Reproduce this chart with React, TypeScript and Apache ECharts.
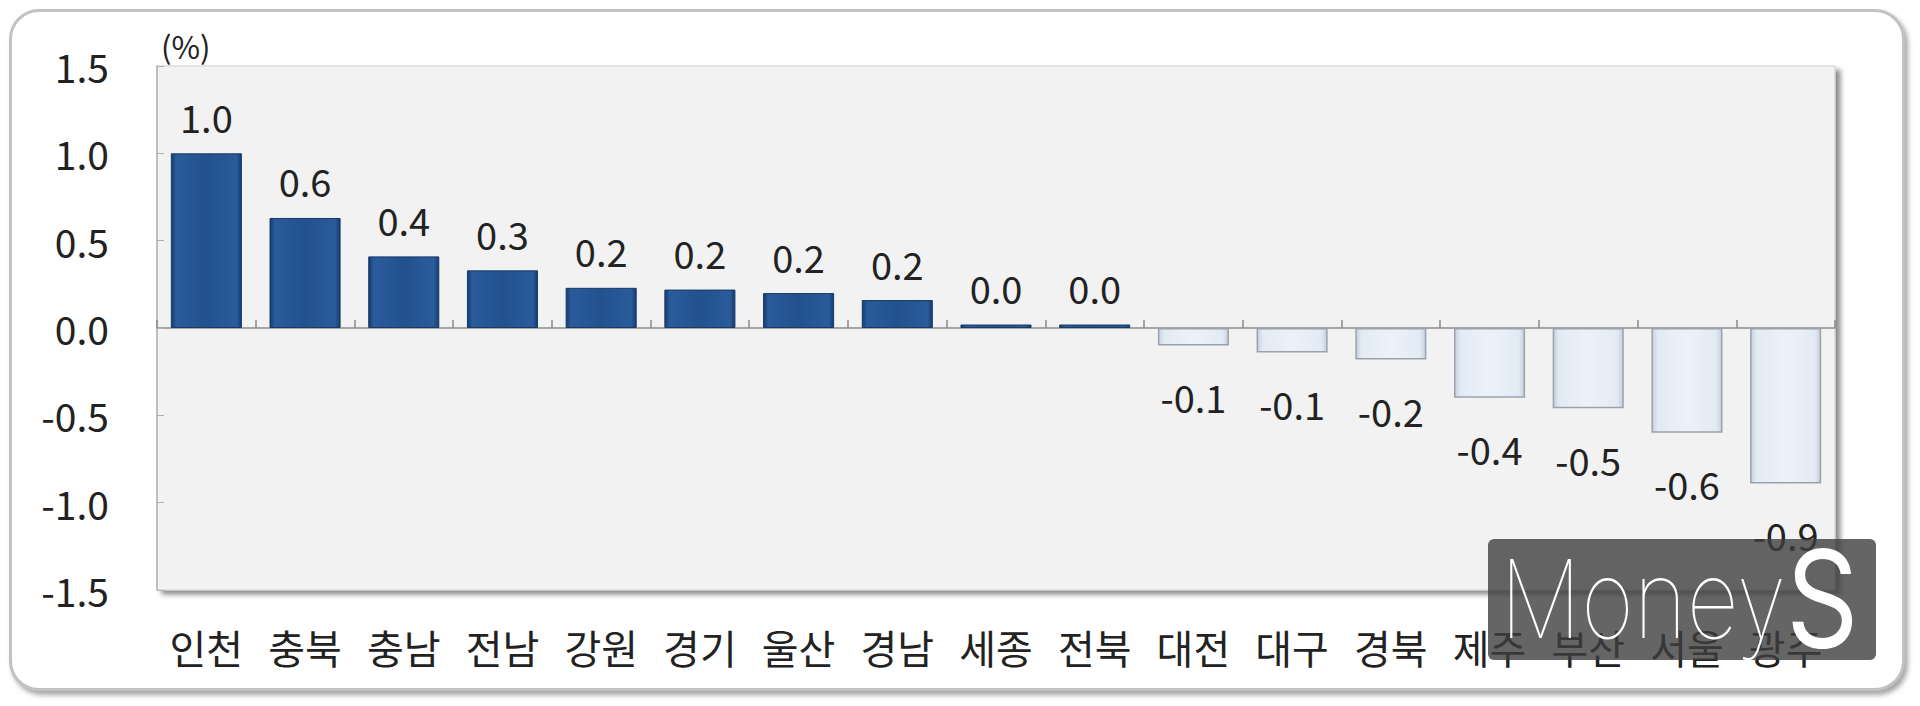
import React, { useEffect, useRef } from "react";
import * as echarts from "echarts";

const regions = ["인천", "충북", "충남", "전남", "강원", "경기", "울산", "경남", "세종", "전북", "대전", "대구", "경북", "제주", "부산", "서울", "광주"];
const changes = [1.0, 0.63, 0.41, 0.33, 0.23, 0.22, 0.2, 0.16, 0.02, 0.02, -0.1, -0.14, -0.18, -0.4, -0.46, -0.6, -0.89];
const yMin = -1.5;
const yMax = 1.5;
const yStep = 0.5;
const unitLabel = "(%)";
const brandMain = "Money";
const brandTail = "S";

const FONT = "'Noto Sans CJK KR', 'Noto Sans', sans-serif";

const posColor = new echarts.graphic.LinearGradient(0, 0, 1, 0, [
  { offset: 0, color: "#163c6b" },
  { offset: 0.07, color: "#2a5b9b" },
  { offset: 0.5, color: "#22518e" },
  { offset: 0.93, color: "#2a5b9b" },
  { offset: 1, color: "#163c6b" },
]);
const negColor = new echarts.graphic.LinearGradient(0, 0, 1, 0, [
  { offset: 0, color: "#c6d0dc" },
  { offset: 0.08, color: "#e2eaf4" },
  { offset: 0.5, color: "#edf2f9" },
  { offset: 0.92, color: "#e2eaf4" },
  { offset: 1, color: "#c6d0dc" },
]);

export default function App() {
  const ref = useRef<HTMLDivElement>(null);

  useEffect(() => {
    if (!ref.current) return;
    const chart = echarts.init(ref.current, undefined, { renderer: "svg" });

    const seriesData = changes.map((v) => ({
      value: v,
      label: {
        position: v >= 0 ? "top" : "bottom",
        distance: v >= 0 ? 18 : 32,
      },
      itemStyle:
        v >= 0
          ? { color: posColor, borderColor: "#173a66", borderWidth: 1 }
          : { color: negColor, borderColor: "#9aa3ad", borderWidth: 1.5 },
    }));

    chart.setOption({
      animation: false,
      textStyle: { fontFamily: FONT },
      grid: {
        left: 157,
        right: 85,
        top: 66,
        bottom: 116,
        show: true,
        backgroundColor: "#f2f2f2",
        borderColor: "#cfcfcf",
        borderWidth: 1,
        shadowColor: "rgba(0,0,0,0.45)",
        shadowBlur: 5,
        shadowOffsetX: 5,
        shadowOffsetY: 4,
      },
      xAxis: [
        {
          type: "category",
          data: regions,
          position: "bottom",
          axisLine: { show: false, onZero: false },
          axisTick: { show: false },
          axisLabel: {
            margin: 37,
            fontSize: 40,
            color: "#222",
            fontFamily: FONT,
            interval: 0,
          },
        },
        {
          type: "category",
          data: regions,
          position: "bottom",
          axisLine: { show: true, onZero: true, lineStyle: { color: "#a6a6a6", width: 2 } },
          axisTick: { show: true, inside: true, length: 8, lineStyle: { color: "#8a8a8a", width: 1.5 } },
          axisLabel: { show: false },
        },
      ],
      yAxis: {
        type: "value",
        min: yMin,
        max: yMax,
        interval: yStep,
        axisLine: { show: true, lineStyle: { color: "#b0b0b0", width: 1.5 } },
        axisTick: { show: true, inside: true, length: 7, lineStyle: { color: "#b0b0b0" } },
        splitLine: { show: false },
        axisLabel: {
          margin: 48,
          fontSize: 39,
          color: "#222",
          fontFamily: FONT,
          formatter: (v: number) => v.toFixed(1),
        },
      },
      series: [
        {
          type: "bar",
          xAxisIndex: 0,
          data: seriesData,
          barWidth: "72%",
          label: {
            show: true,
            fontSize: 38,
            color: "#222",
            fontFamily: FONT,
            formatter: (p: any) => (Math.round(p.value * 10) / 10).toFixed(1),
          },
        },
      ],
      graphic: [
        {
          type: "text",
          left: 161,
          top: 30,
          style: { text: unitLabel, fontSize: 31, fill: "#222", fontFamily: FONT },
        },
        {
          type: "rect",
          shape: { x: 1488, y: 539, width: 388, height: 121, r: 6 },
          style: { fill: "rgba(62,62,62,0.8)" },
          z: 100,
        },
        {
          type: "text",
          x: 1500,
          y: 598,
          scaleX: 0.84,
          z: 101,
          style: {
            text: `{a|${brandMain}}{b|${brandTail}}`,
            verticalAlign: "middle",
            rich: {
              a: { fontSize: 108, fontWeight: 100, fill: "#ffffff", fontFamily: "Inter, Lato, sans-serif" },
              b: { fontSize: 134, fontWeight: 400, fill: "#ffffff", fontFamily: "Inter, Lato, sans-serif" },
            },
          },
        },
      ],
    });

    return () => chart.dispose();
  }, []);

  return (
    <div style={{ position: "fixed", left: 0, top: 0, width: 1920, height: 706, background: "#fff" }}>
      <div
        style={{
          position: "absolute",
          left: 9,
          top: 9,
          width: 1890,
          height: 676,
          border: "3px solid #c2c2c2",
          borderRadius: 30,
          boxShadow: "3px 4px 5px rgba(0,0,0,0.35)",
          background: "#fff",
        }}
      />
      <div ref={ref} style={{ position: "absolute", left: 0, top: 0, width: 1920, height: 706 }} />
    </div>
  );
}
